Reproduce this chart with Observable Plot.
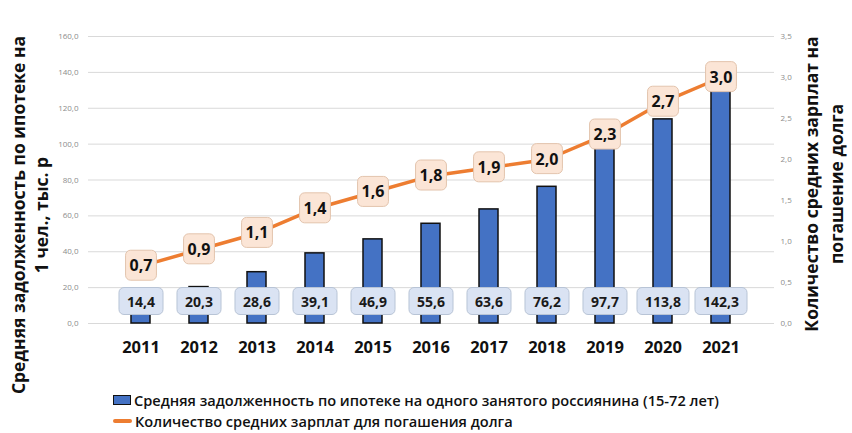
<!DOCTYPE html>
<html><head><meta charset="utf-8">
<script src="https://cdn.jsdelivr.net/npm/d3@7"></script>
<script src="https://cdn.jsdelivr.net/npm/@observablehq/plot@0.6"></script>
<style>
body{margin:0;background:#fff;font-family:"Open Sans",sans-serif;}
#wrap{position:relative;width:852px;height:433px;overflow:hidden;}
#legend{position:absolute;left:113px;top:390px;font-family:"Open Sans",sans-serif;font-size:14.6px;font-weight:600;color:#111;letter-spacing:0px;line-height:20px;}
.li{display:flex;align-items:center;height:20px;}
.li + .li{margin-top:1px;}
.sw-bar{width:16px;height:8px;background:#4472c4;border:1.5px solid #111;margin-right:3px;}
.sw-line{width:19px;height:3.5px;background:#ed7d31;margin-right:3px;border-radius:2px;}
</style></head><body>
<div id="wrap"><div id="legend"></div></div>
<script>
const years = ["2011","2012","2013","2014","2015","2016","2017","2018","2019","2020","2021"];
const debt = [14.4, 20.3, 28.6, 39.1, 46.9, 55.6, 63.6, 76.2, 97.7, 113.8, 142.3];
const salaries = [0.7, 0.9, 1.1, 1.4, 1.6, 1.8, 1.9, 2.0, 2.3, 2.7, 3.0];
const leftTicks = [0, 20, 40, 60, 80, 100, 120, 140, 160];
const rightTicks = [0, 0.5, 1, 1.5, 2, 2.5, 3, 3.5];
const leftTitle = "Средняя задолженность по ипотеке на\n1 чел., тыс. р";
const rightTitle = "Количество средних зарплат на\nпогашение долга";
const legendBar = "Средняя задолженность по ипотеке на одного занятого россиянина (15-72 лет)";
const legendLine = "Количество средних зарплат для погашения долга";

const leftMax = 160, rightMax = 3.5;
const k = leftMax / rightMax;
const data = years.map((year, i) => ({year, debt: debt[i], sal: salaries[i], salY: salaries[i] * k}));
const fmt = d => d3.format(".1f")(d).replace(".", ",");

const chart = Plot.plot({
  width: 852, height: 433,
  marginLeft: 88, marginRight: 78, marginTop: 36, marginBottom: 110,
  style: {fontFamily: "Open Sans", background: "white", overflow: "visible"},
  x: {domain: years, padding: 0.67, axis: null},
  y: {domain: [0, leftMax], axis: null},
  marks: [
    Plot.gridY(leftTicks, {stroke: "#d9d9d9", strokeOpacity: 1, strokeWidth: 1}),
    Plot.axisY(leftTicks, {anchor: "left", tickSize: 0, tickPadding: 10, tickFormat: fmt, fontSize: 8, fill: "#8c8c8c", label: null}),
    Plot.axisY(rightTicks.map(t => t * k), {anchor: "right", tickSize: 0, tickPadding: 6, tickFormat: d => fmt(d / k), fontSize: 8, fill: "#8c8c8c", label: null}),
    Plot.axisX({tickSize: 0, tickPadding: 18, fontSize: 16.5, fontWeight: "bold", fill: "#111", label: null}),
    Plot.barY(data, {x: "year", y: "debt", fill: "#4472c4", stroke: "#111", strokeWidth: 1.5}),
    Plot.lineY(data, {x: "year", y: "salY", stroke: "#ed7d31", strokeWidth: 3.5}),
    Plot.text(data, {x: "year", frameAnchor: "bottom", dy: -17, text: d => fmt(d.debt), fontSize: 14, fontWeight: "bold", fill: "#1a1a1a", ariaDescription: "barlabels"}),
    Plot.text(data, {x: "year", y: "salY", text: d => fmt(d.sal), fontSize: 16, fontWeight: "bold", fill: "#111", ariaDescription: "linelabels"}),
    Plot.text([leftTitle], {frameAnchor: "left", text: d => d, rotate: -90, textAnchor: "middle", dx: -59, dy: 35, fontSize: 17.5, fontWeight: "bold", lineHeight: 1.32, fill: "#111"}),
    Plot.text([rightTitle], {frameAnchor: "right", text: d => d, rotate: -90, textAnchor: "middle", dx: 48, dy: 4, fontSize: 17.5, fontWeight: "bold", lineHeight: 1.45, fill: "#111"})
  ]
});

const wrap = document.getElementById("wrap");
wrap.insertBefore(chart, wrap.firstChild);

function box(desc, fill, stroke, px, py) {
  const g = chart.querySelector(`g[aria-description="${desc}"]`);
  if (!g) return;
  g.querySelectorAll("text").forEach(t => {
    const b = t.getBBox();
    const r = document.createElementNS("http://www.w3.org/2000/svg", "rect");
    r.setAttribute("x", b.x - px);
    r.setAttribute("y", b.y - py);
    r.setAttribute("width", b.width + 2 * px);
    r.setAttribute("height", b.height + 2 * py);
    r.setAttribute("rx", 5);
    r.setAttribute("fill", fill);
    r.setAttribute("stroke", stroke);
    r.setAttribute("stroke-width", 1);
    if (t.getAttribute("transform")) r.setAttribute("transform", t.getAttribute("transform"));
    g.insertBefore(r, t);
  });
}
box("barlabels", "#dae3f3", "#b8c4d6", 8, 4);
box("linelabels", "#fbe5d6", "#e3c4ad", 4, 4);

const legend = document.getElementById("legend");
legend.innerHTML = `<div class="li"><span class="sw-bar"></span><span>${legendBar}</span></div>` +
  `<div class="li"><span class="sw-line"></span><span>${legendLine}</span></div>`;
chart.style.position = "absolute";
chart.style.left = "0"; chart.style.top = "0";
legend.style.zIndex = 2;
</script>
</body></html>
